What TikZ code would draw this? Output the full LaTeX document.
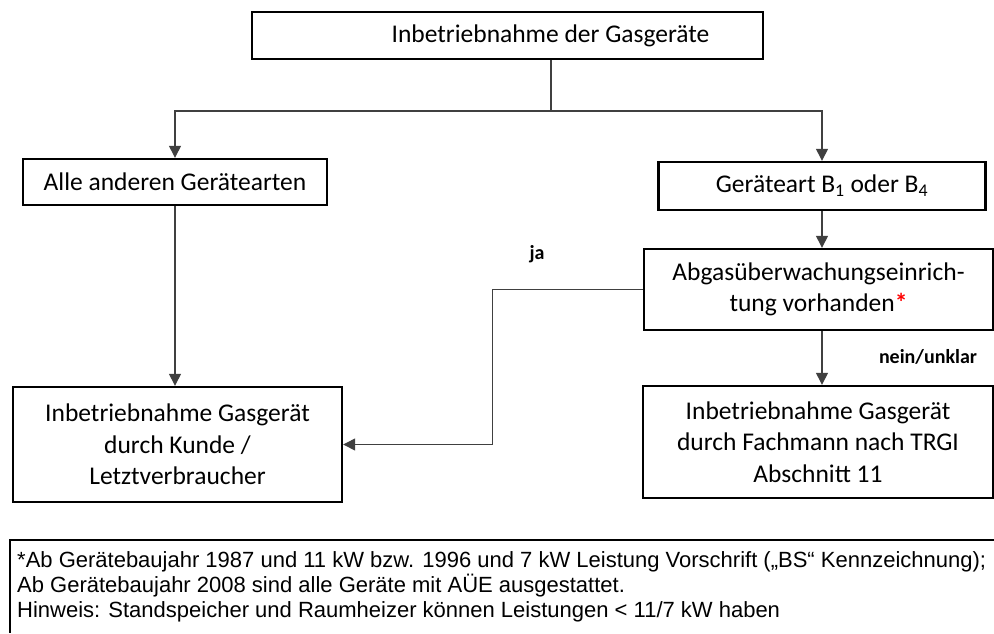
\documentclass[tikz,border=0pt]{standalone}
\usepackage{fontspec}
\setmainfont{Carlito}
\newfontfamily\arialfont{Liberation Sans}
\usetikzlibrary{arrows.meta}
\begin{document}
\begin{tikzpicture}[x=1pt,y=-1pt,
  box/.style={draw=black,line width=2.4pt,inner sep=0pt,align=center,
              font=\fontsize{25.5}{31.5}\selectfont},
  conn/.style={draw=black!75,line width=1.3pt},
  arr/.style={conn,-{Triangle[length=12pt,width=12pt]}},
  lab/.style={inner sep=0pt,font=\fontsize{20}{24}\selectfont\bfseries},
  note/.style={inner sep=0pt,anchor=base west,font=\arialfont\fontsize{22}{25}\selectfont}]
\useasboundingbox (0,0) rectangle (994,633);

\node[box,minimum width=511pt,minimum height=47pt] (top) at (507.5,35.5)
  {\hspace*{86pt}Inbetriebnahme der Gasgeräte};
\node[box,minimum width=304pt,minimum height=46pt] (alle) at (175,182)
  {Alle anderen Gerätearten};
\node[box,minimum width=327pt,minimum height=48pt] (geraet) at (822,186)
  {Geräteart B\textsubscript{1} oder B\textsubscript{4}};
\node[box,minimum width=349pt,minimum height=81pt] (abgas) at (818.5,289.5)
  {Abgasüberwachungseinrich-\\tung vorhanden\textcolor{red}{\textbf{*}}};
\node[box,minimum width=329pt,minimum height=115pt] (kunde) at (177.5,444.5)
  {Inbetriebnahme Gasgerät\\durch Kunde /\\Letztverbraucher};
\node[box,minimum width=350pt,minimum height=112pt] (fach) at (818,442)
  {Inbetriebnahme Gasgerät\\durch Fachmann nach TRGI\\Abschnitt 11};

\coordinate (split) at (551,111);
\draw[conn] (top.south -| split) -- (split);
\draw[arr] (split) -| (alle.north);
\draw[arr] (split) -| (geraet.north);
\draw[arr] (alle.south) -- (alle.south |- kunde.north);
\draw[arr] (geraet.south) -- (geraet.south |- abgas.north);
\draw[arr] (geraet.south |- abgas.south) -- (geraet.south |- fach.north);
\draw[arr] (abgas.west) -- ++(-150,0) |- (kunde.east);

\node[lab] (ja) at (537,254) {ja};
\node[lab] (nein) at (928,357) {nein/unklar};

\draw[line width=1.2pt] (994,540) -- (10,540) -- (10,633);
\node[note] (n1) at (17,567) {*Ab Gerätebaujahr 1987 und 11 kW bzw. 1996 und 7 kW Leistung Vorschrift („BS“ Kennzeichnung);};
\node[note] (n2) at (17,592) {Ab Gerätebaujahr 2008 sind alle Geräte mit AÜE ausgestattet.};
\node[note] (n3) at (17,617) {Hinweis: Standspeicher und Raumheizer können Leistungen < 11/7 kW haben};
\end{tikzpicture}
\end{document}
